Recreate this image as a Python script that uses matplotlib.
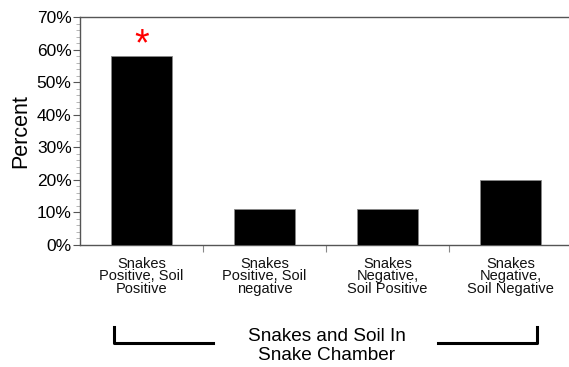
import matplotlib
matplotlib.use("Agg")
import matplotlib.pyplot as plt
from matplotlib.ticker import MultipleLocator, FuncFormatter
from matplotlib.lines import Line2D

categories = ["Snakes\nPositive, Soil\nPositive", "Snakes\nPositive, Soil\nnegative",
              "Snakes\nNegative,\nSoil Positive", "Snakes\nNegative,\nSoil Negative"]
values = [58, 11, 11, 20]
group_label = "Snakes and Soil In\nSnake Chamber"

plt.rcParams['font.family'] = ['Liberation Sans', 'DejaVu Sans']

W, H = 569, 367
fig = plt.figure(figsize=(W/100, H/100), dpi=100)
ax_l, ax_r, ax_t, ax_b = 80, 572, 17, 245
ax = fig.add_axes([ax_l/W, 1 - ax_b/H, (ax_r-ax_l)/W, (ax_b-ax_t)/H])

x = list(range(len(values)))
ax.bar(x, values, width=0.5, color='black', edgecolor='#888888', linewidth=0.6, zorder=3)
ax.set_xlim(-0.5, len(values) - 0.5)
ax.set_ylim(0, 70)

ax.yaxis.set_major_locator(MultipleLocator(10))
ax.yaxis.set_minor_locator(MultipleLocator(2))
ax.yaxis.set_major_formatter(FuncFormatter(lambda v, p: f"{int(v)}%"))
ax.tick_params(axis='y', which='major', length=5, width=0.8, color='#555555', labelsize=12.5, pad=1)
ax.tick_params(axis='y', which='minor', length=3, width=0.6, color='#aaaaaa')

ax.set_xticks([i - 0.5 for i in range(1, len(values))], minor=False)
ax.set_xticklabels([])
ax.tick_params(axis='x', which='major', length=5, width=0.8, color='#888888')
for i, lab in enumerate(categories):
    ax.text(i, -3.6, lab, ha='center', va='top', fontsize=10.5, linespacing=0.88,
            transform=ax.transData, color='#111111')

for side in ['left', 'bottom', 'top']:
    ax.spines[side].set_color('#555555')
    ax.spines[side].set_linewidth(1.0)
ax.spines['right'].set_visible(False)

ax.set_ylabel("Percent", fontsize=15.5, labelpad=4)

# significance asterisk
ax.text(0, 61.3, "*", ha='center', va='center', color='red', fontsize=27)

# bracket and group label (figure pixel coordinates)
def fx(px):
    return px / W
def fy(py):
    return 1 - py / H
lw = 2.2
fig.add_artist(Line2D([fx(114), fx(114), fx(213)], [fy(327), fy(343), fy(343)], color='black', lw=lw))
fig.add_artist(Line2D([fx(438), fx(537), fx(537)], [fy(343), fy(343), fy(327)], color='black', lw=lw))
fig.text(fx(327), fy(346), group_label, ha='center', va='center', fontsize=13.7, linespacing=1.12)

fig.savefig("out.png", dpi=100)
